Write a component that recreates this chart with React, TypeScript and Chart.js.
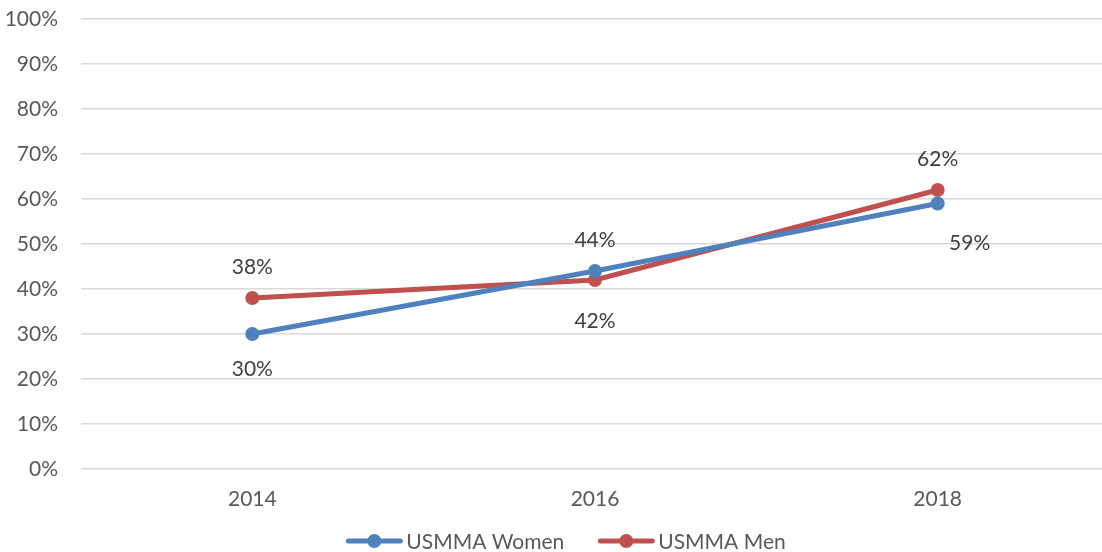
import React, { useEffect, useRef } from "react";
import { Chart, registerables } from "chart.js";

Chart.register(...registerables);

const years = ["2014", "2016", "2018"];
const womenValues = [30, 44, 59];
const menValues = [38, 42, 62];
const seriesNames = ["USMMA Women", "USMMA Men"];
const seriesColors = ["#4F81BD", "#C0504D"];

// label offsets (style)
const labelOffsets = [
  { dx: [0, 0, 32], dy: [35, -31, 40] },
  { dx: [0, 0, 0], dy: [-31, 41, -31] },
];

const FONT = "Lato, 'Open Sans', sans-serif";
const FS = 21;

const dataLabelPlugin = {
  id: "dataLabelsCustom",
  afterDatasetsDraw(chart: any) {
    const ctx = chart.ctx;
    ctx.save();
    ctx.font = `${FS}px ${FONT}`;
    ctx.fillStyle = "#404040";
    ctx.textAlign = "center";
    ctx.textBaseline = "middle";
    chart.data.datasets.forEach((ds: any, di: number) => {
      const meta = chart.getDatasetMeta(di);
      meta.data.forEach((el: any, i: number) => {
        const off = labelOffsets[di];
        ctx.fillText(`${ds.data[i]}%`, el.x + off.dx[i], el.y + off.dy[i]);
      });
    });
    ctx.restore();
  },
};

const legendPlugin = {
  id: "legendCustom",
  afterDraw(chart: any) {
    const ctx = chart.ctx;
    ctx.save();
    ctx.font = `${FS}px ${FONT}`;
    const lineW = 56;
    const gapText = 4;
    const gapItem = 34;
    const items = chart.data.datasets.map((ds: any) => ({
      label: ds.label,
      color: ds.borderColor,
      w: lineW + gapText + ctx.measureText(ds.label).width,
    }));
    const total = items.reduce((s: number, it: any) => s + it.w, 0) + gapItem * (items.length - 1);
    let x = 566 - total / 2;
    const y = 541;
    items.forEach((it: any) => {
      ctx.strokeStyle = it.color;
      ctx.lineWidth = 5;
      ctx.lineCap = "round";
      ctx.beginPath();
      ctx.moveTo(x + 2, y);
      ctx.lineTo(x + lineW - 2, y);
      ctx.stroke();
      ctx.fillStyle = it.color;
      ctx.beginPath();
      ctx.arc(x + lineW / 2, y, 7, 0, Math.PI * 2);
      ctx.fill();
      ctx.fillStyle = "#595959";
      ctx.textAlign = "left";
      ctx.textBaseline = "middle";
      ctx.fillText(it.label, x + lineW + gapText, y + 1);
      x += it.w + gapItem;
    });
    ctx.restore();
  },
};

export default function App() {
  const ref = useRef<HTMLCanvasElement>(null);
  useEffect(() => {
    if (!ref.current) return;
    const chart = new Chart(ref.current, {
      type: "line",
      data: {
        labels: years,
        datasets: [
          {
            label: seriesNames[0],
            data: womenValues,
            borderColor: seriesColors[0],
            backgroundColor: seriesColors[0],
            borderWidth: 5,
            pointRadius: 7,
            pointHoverRadius: 7,
            pointBorderWidth: 0,
            tension: 0,
          },
          {
            label: seriesNames[1],
            data: menValues,
            borderColor: seriesColors[1],
            backgroundColor: seriesColors[1],
            borderWidth: 5,
            pointRadius: 7,
            pointHoverRadius: 7,
            pointBorderWidth: 0,
            tension: 0,
          },
        ],
      },
      options: {
        animation: false,
        responsive: false,
        devicePixelRatio: 1,
        layout: { padding: { top: 19, bottom: 33, left: 0, right: 0 } },
        plugins: {
          legend: { display: false },
          tooltip: { enabled: false },
          title: { display: false },
        },
        scales: {
          x: {
            offset: true,
            grid: { display: false, drawTicks: false },
            border: { display: false },
            ticks: {
              color: "#595959",
              font: { family: FONT, size: FS },
              padding: 18,
            },
            afterFit: (s: any) => {
              s.height = 50;
              s.paddingLeft = 0;
              s.paddingRight = 0;
            },
          },
          y: {
            min: 0,
            max: 100,
            grid: { color: "#D9D9D9", lineWidth: 1.5, drawTicks: false },
            border: { display: false },
            ticks: {
              stepSize: 10,
              color: "#595959",
              font: { family: FONT, size: FS },
              padding: 23,
              callback: (v: any) => `${v}%`,
            },
            afterFit: (s: any) => {
              s.width = 81;
              s.paddingTop = 0;
              s.paddingBottom = 0;
            },
          },
        },
      },
      plugins: [dataLabelPlugin, legendPlugin],
    });
    return () => chart.destroy();
  }, []);
  return (
    <div style={{ position: "fixed", left: 0, top: 0, width: 1102, height: 552, overflow: "hidden", background: "#fff" }}>
      <canvas ref={ref} width={1116} height={552} style={{ display: "block" }} />
    </div>
  );
}
